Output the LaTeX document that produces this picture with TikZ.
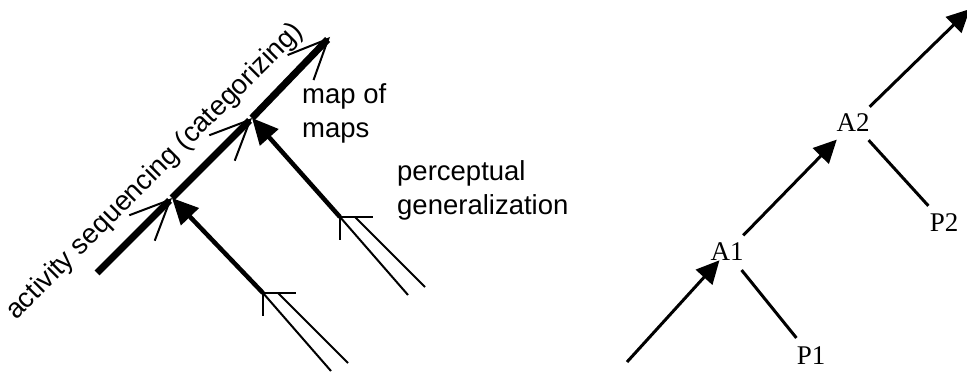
\documentclass[tikz,border=0pt]{standalone}
\usepackage{fontspec}
\setmainfont{Liberation Serif}
\setsansfont{Liberation Sans}
\usetikzlibrary{arrows.meta}

\begin{document}
\begin{tikzpicture}[x=1pt,y=1pt]
  \tikzset{
    lbl/.style={font=\sffamily\fontsize{27.5}{34}\selectfont,inner sep=0pt,align=left},
    act/.style={circle,inner sep=0pt,minimum size=46pt,font=\fontsize{27}{31}\selectfont},
    seq/.style={line width=7pt,-{Straight Barb[length=40pt,width=36pt,line width'=2pt]}},
    feed/.style={line width=4.5pt,-{Triangle[length=26pt,width=24pt]}},
    link/.style={line width=3pt},
    flow/.style={link,-{Triangle[length=23pt,width=22pt]}},
    percept/.style={line width=2pt}
  }
  \useasboundingbox (0,0) rectangle (967,377);

  % left: activity sequencing
  \coordinate (s0) at (97,104);
  \coordinate (s1) at (172,179);
  \coordinate (s2) at (252,259);
  \coordinate (s3) at (330,340);
  \coordinate (pa) at (263,84);
  \coordinate (pb) at (340,160);

  \draw[seq] (s0) -- (s1);
  \draw[seq] (s1) -- (s2);
  \draw[seq] (s2) -- (s3);

  \draw[feed] (pa) -- (s1);
  \draw[feed] (pb) -- (s2);

  % perceptual input, drawn as open double arrows
  \foreach \p in {pa,pb} {
    \draw[percept] ([shift={(0,-23)}]\p) -- (\p) -- ++(33,0);
    \draw[percept] (\p) -- ++(68,-78);
    \draw[percept] ([shift={(15,0)}]\p) -- ++(70,-70);
  }

  \node[lbl,rotate=45,anchor=base west] (seqlbl) at (16,56) {activity sequencing (categorizing)};
  \node[lbl,anchor=base west] (maps) at (302,239) {map of\\maps};
  \node[lbl,anchor=base west] (gen) at (397,162) {perceptual\\generalization};

  % right: A/P chain
  \node[act] (A1) at (727,125) {A1};
  \node[act] (A2) at (853,254) {A2};
  \node[act] (P1) at (811,21) {P1};
  \node[act] (P2) at (944,154) {P2};
  \coordinate (in) at (627,15);
  \coordinate (out) at (970,368);

  \draw[flow,shorten >=-12pt] (in) -- (A1);
  \draw[flow] (A1) -- (A2);
  \draw[flow] (A2) -- (out);
  \draw[link] (A1) -- (P1);
  \draw[link] (A2) -- (P2);
\end{tikzpicture}
\end{document}
